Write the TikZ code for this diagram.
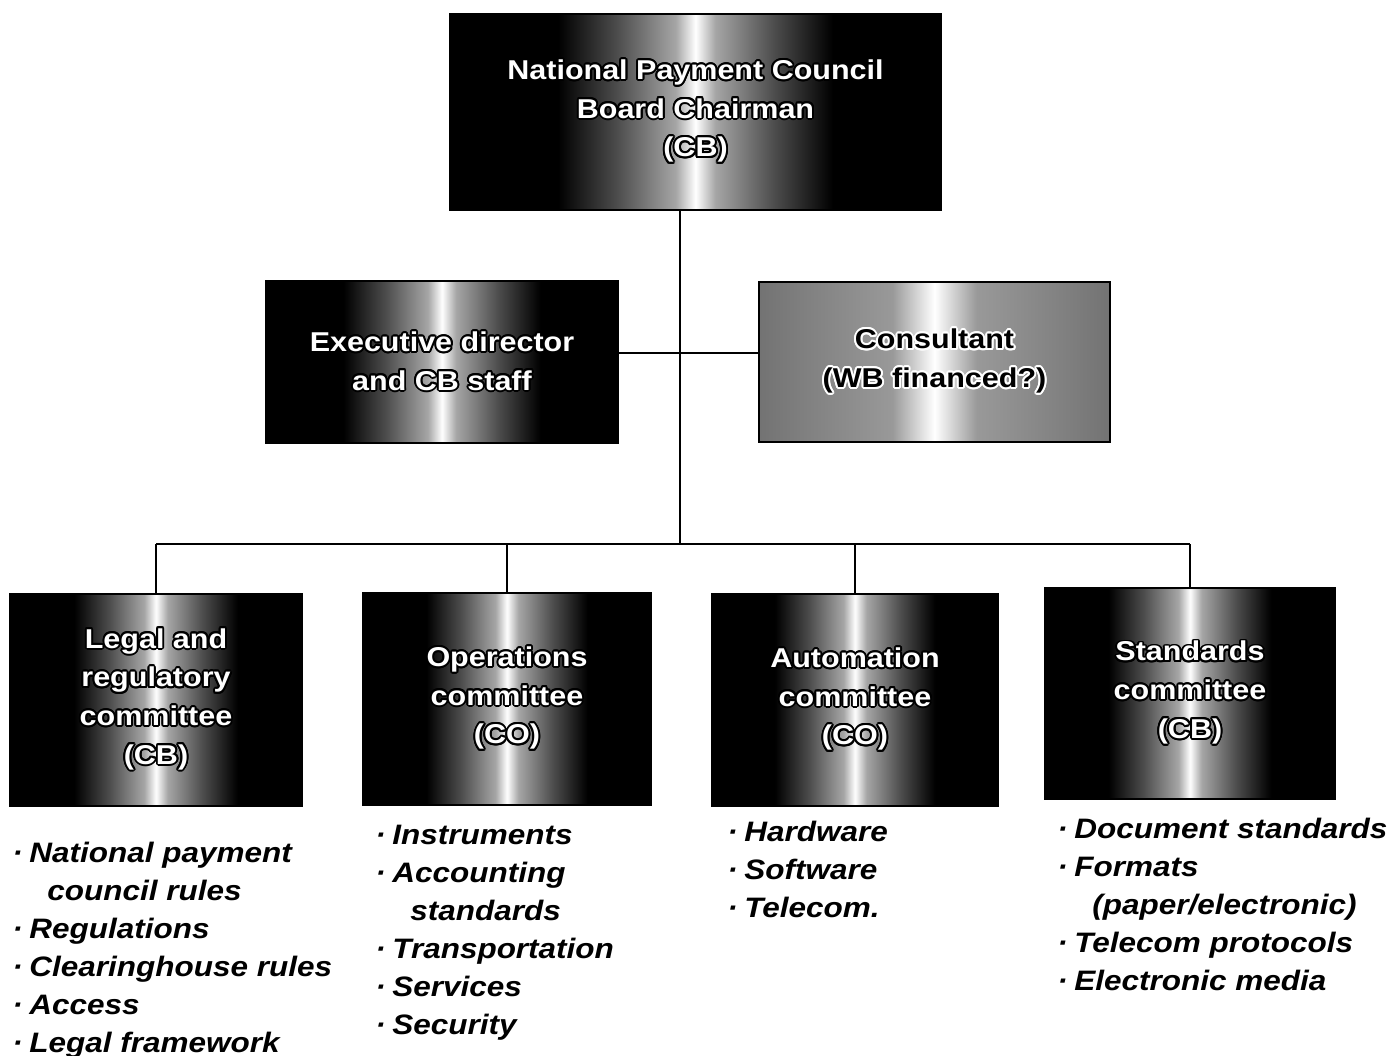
\documentclass[tikz,border=0pt]{standalone}
\usepackage{fontspec}
\setmainfont{Liberation Sans}[FakeStretch=1.12]
\usepackage{xcolor}
\usepackage{tikz}
\usepackage{contour}
\contourlength{1.1pt}
\usetikzlibrary{positioning,calc}

\pgfdeclarehorizontalshading{darkband}{100bp}{color(0bp)=(black); color(25bp)=(black); color(36bp)=(black); color(42bp)=(black!70); color(48bp)=(black!35); color(50bp)=(white); color(52bp)=(black!35); color(58bp)=(black!70); color(64bp)=(black); color(75bp)=(black); color(100bp)=(black)}
\pgfdeclarehorizontalshading{lightband}{100bp}{color(0bp)=(black!55); color(25bp)=(black!55); color(44bp)=(black!40); color(50bp)=(white); color(56bp)=(black!40); color(75bp)=(black!55); color(100bp)=(black!55)}

\newcommand{\wl}[1]{\contour{black}{#1}}
\newcommand{\bl}[1]{\contour{white}{#1}}
\newcommand{\bul}{\makebox[0.34cm][l]{·}}
\newcommand{\cont}{\hspace*{0.7cm}}

\tikzset{
    orgbox/.style={draw=black, line width=0.8pt, shading=darkband, text=white, align=center, inner sep=0pt,
        font=\bfseries\fontsize{15.5}{22}\selectfont},
    softbox/.style={orgbox, shading=lightband, text=black},
    itemlist/.style={anchor=north west, align=left, inner sep=0pt,
        font=\bfseries\itshape\fontsize{16}{21.6}\selectfont},
    link/.style={line width=1pt}
}

\begin{document}
\begin{tikzpicture}[x=0.02cm, y=-0.02cm]
    \useasboundingbox (0,0) rectangle (1392,1055);

    % council and staff
    \node[orgbox, minimum width=9.82cm, minimum height=3.92cm] (top) at (695.5,112)
        {\wl{National Payment Council}\\\wl{Board Chairman}\\\wl{(CB)}};
    \node[orgbox, minimum width=7.04cm, minimum height=3.24cm] (exec) at (442,362)
        {\wl{Executive director}\\\wl{and CB staff}};
    \node[softbox, minimum width=7.02cm, minimum height=3.2cm] (cons) at (934.5,362)
        {\bl{Consultant}\\\bl{(WB financed?)}};

    % committees
    \node[orgbox, minimum width=5.84cm, minimum height=4.24cm] (legal) at (156,700)
        {\wl{Legal and}\\\wl{regulatory}\\\wl{committee}\\\wl{(CB)}};
    \node[orgbox, minimum width=5.76cm, minimum height=4.24cm] (ops) at (507,699)
        {\wl{Operations}\\\wl{committee}\\\wl{(CO)}};
    \node[orgbox, minimum width=5.72cm, minimum height=4.24cm] (autom) at (855,700)
        {\wl{Automation}\\\wl{committee}\\\wl{(CO)}};
    \node[orgbox, minimum width=5.8cm, minimum height=4.22cm] (std) at (1190,693.5)
        {\wl{Standards}\\\wl{committee}\\\wl{(CB)}};

    % connectors
    \coordinate (spine) at (680,544);
    \draw[link] (top.south -| spine) -- (spine);
    \draw[link] ([yshift=0.18cm]exec.east) -- ([yshift=0.18cm]cons.west);
    \draw[link] (legal.north |- spine) -- (std.north |- spine);
    \foreach \c in {legal,ops,autom,std}
        \draw[link] (\c.north |- spine) -- (\c.north);

    % task lists
    \node[itemlist] (legalitems) at (12,842)
        {\bul National payment\\\cont council rules\\\bul Regulations\\\bul Clearinghouse rules\\\bul Access\\\bul Legal framework};
    \node[itemlist] (opsitems) at (375,825)
        {\bul Instruments\\\bul Accounting\\\cont standards\\\bul Transportation\\\bul Services\\\bul Security};
    \node[itemlist] (automitems) at (727,821)
        {\bul Hardware\\\bul Software\\\bul Telecom.};
    \node[itemlist] (stditems) at (1057,818)
        {\bul Document standards\\\bul Formats\\\cont (paper/electronic)\\\bul Telecom protocols\\\bul Electronic media};
\end{tikzpicture}
\end{document}
